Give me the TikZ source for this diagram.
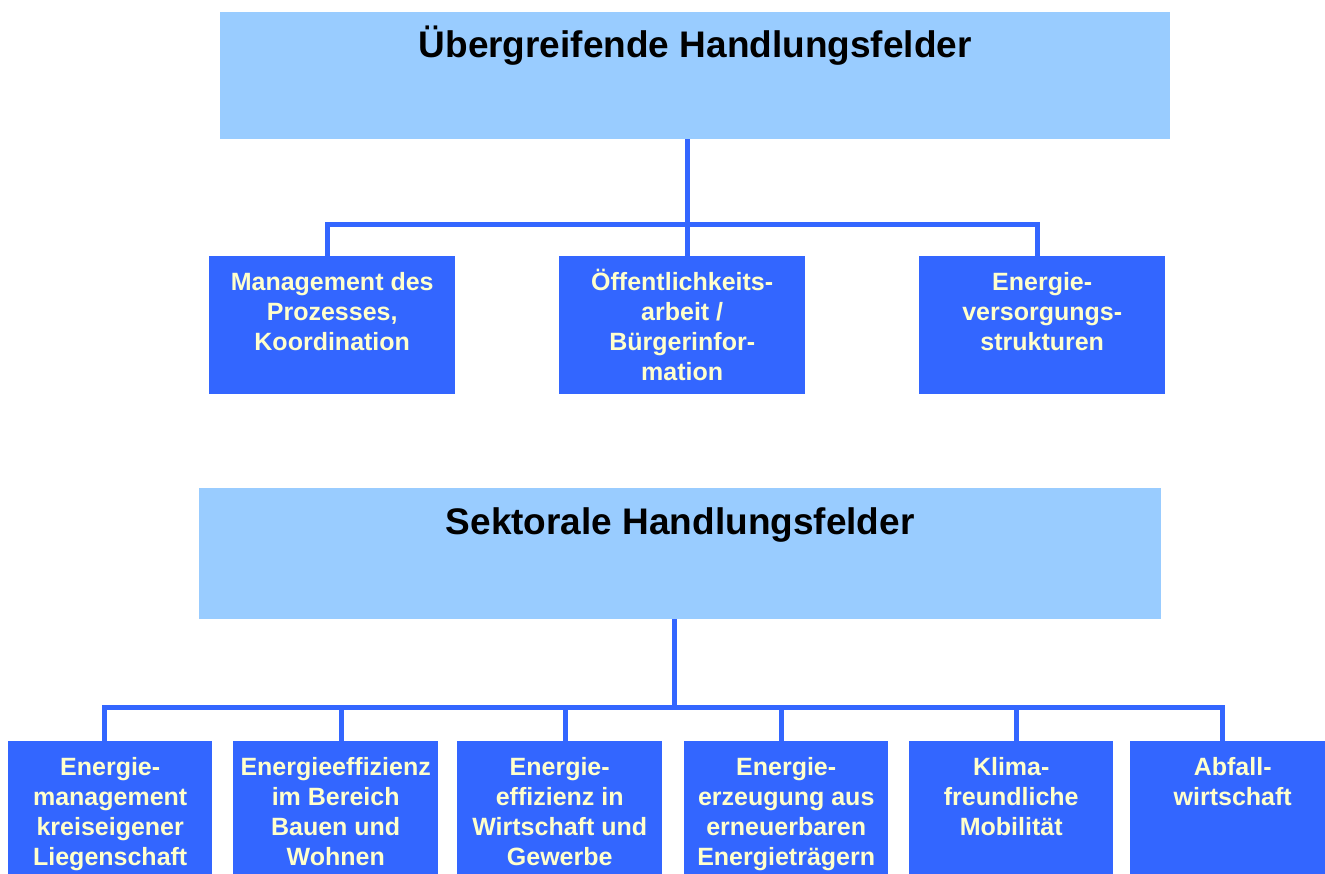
\documentclass[tikz,border=0pt]{standalone}
\usepackage{fontspec}
\setmainfont{Liberation Sans}
\definecolor{lightblue}{HTML}{99CCFF}
\definecolor{darkblue}{HTML}{3366FF}
\definecolor{paleyellow}{HTML}{FFFFCC}
\begin{document}
\begin{tikzpicture}[x=1pt,y=-1pt,
  head/.style={fill=lightblue, draw=none, inner sep=0pt, anchor=north west},
  leaf/.style={fill=darkblue, draw=none, inner sep=0pt, anchor=north west},
  wire/.style={draw=darkblue, line width=5pt},
  leaftext/.style={anchor=north, inner sep=0pt, yshift=-13pt, text=paleyellow,
    font=\bfseries\fontsize{25}{30}\selectfont, align=center},
  headtext/.style={anchor=base, inner sep=0pt, yshift=-46pt, text=black,
    font=\bfseries\fontsize{37}{41}\selectfont}]
\useasboundingbox (0,0) rectangle (1325,874);
\clip (0,0) rectangle (1325,874);
\fill[white] (0,0) rectangle (1325,874);

% upper part
\node[head, minimum width=950pt, minimum height=127pt,
  label={[headtext]north:{Übergreifende Handlungsfelder}}] (ueb) at (220,12) {};
\node[leaf, minimum width=246pt, minimum height=138pt,
  label={[leaftext]north:{\strut Management des\\Prozesses,\\Koordination}}] (m1) at (209,256) {};
\node[leaf, minimum width=246pt, minimum height=138pt,
  label={[leaftext]north:{\strut Öffentlichkeits-\\arbeit /\\Bürgerinfor-\\mation}}] (m2) at (559,256) {};
\node[leaf, minimum width=246pt, minimum height=138pt,
  label={[leaftext]north:{\strut Energie-\\versorgungs-\\strukturen}}] (m3) at (919,256) {};

% lower part
\node[head, minimum width=962pt, minimum height=131pt,
  label={[headtext]north:{Sektorale Handlungsfelder}}] (sek) at (199,488) {};
\node[leaf, minimum width=204pt, minimum height=150pt,
  label={[leaftext]north:{\strut Energie-\\management\\kreiseigener\\Liegenschaft}}] (b1) at (8,741) {};
\node[leaf, minimum width=205pt, minimum height=150pt,
  label={[leaftext]north:{\strut Energieeffizienz\\im Bereich\\Bauen und\\Wohnen}}] (b2) at (233,741) {};
\node[leaf, minimum width=205pt, minimum height=150pt,
  label={[leaftext]north:{\strut Energie-\\effizienz in\\Wirtschaft und\\Gewerbe}}] (b3) at (457,741) {};
\node[leaf, minimum width=204pt, minimum height=150pt,
  label={[leaftext]north:{\strut Energie-\\erzeugung aus\\erneuerbaren\\Energieträgern}}] (b4) at (684,741) {};
\node[leaf, minimum width=204pt, minimum height=150pt,
  label={[leaftext]north:{\strut Klima-\\freundliche\\Mobilität}}] (b5) at (909,741) {};
\node[leaf, minimum width=205pt, minimum height=150pt,
  label={[leaftext]north:{\strut Abfall-\\wirtschaft}}] (b6) at (1130,741) {};

% connector points
\coordinate (bus1) at (0,225);
\coordinate (bus2) at (0,707.5);
\coordinate (t1) at ([xshift=-8pt]ueb.south);
\coordinate (d1) at ([xshift=-5pt]m1.north);
\coordinate (d2) at ([xshift=5pt]m2.north);
\coordinate (d3) at ([xshift=-5pt]m3.north);
\coordinate (t2) at ([xshift=-5.5pt]sek.south);
\coordinate (e1) at ([xshift=-6pt]b1.north);
\coordinate (e2) at ([xshift=5.5pt]b2.north);
\coordinate (e3) at ([xshift=6pt]b3.north);
\coordinate (e4) at ([xshift=-5pt]b4.north);
\coordinate (e5) at ([xshift=5pt]b5.north);
\coordinate (e6) at ([xshift=-10.5pt]b6.north);

% connectors, upper
\draw[wire] (t1) -- (t1 |- bus1);
\draw[wire] (d1) -- (d1 |- bus1) -- (d3 |- bus1) -- (d3);
\draw[wire] (d2) -- (d2 |- bus1);

% connectors, lower
\draw[wire] (t2) -- (t2 |- bus2);
\draw[wire] (e1) -- (e1 |- bus2) -- (e6 |- bus2) -- (e6);
\draw[wire] (e2) -- (e2 |- bus2);
\draw[wire] (e3) -- (e3 |- bus2);
\draw[wire] (e4) -- (e4 |- bus2);
\draw[wire] (e5) -- (e5 |- bus2);
\end{tikzpicture}
\end{document}
